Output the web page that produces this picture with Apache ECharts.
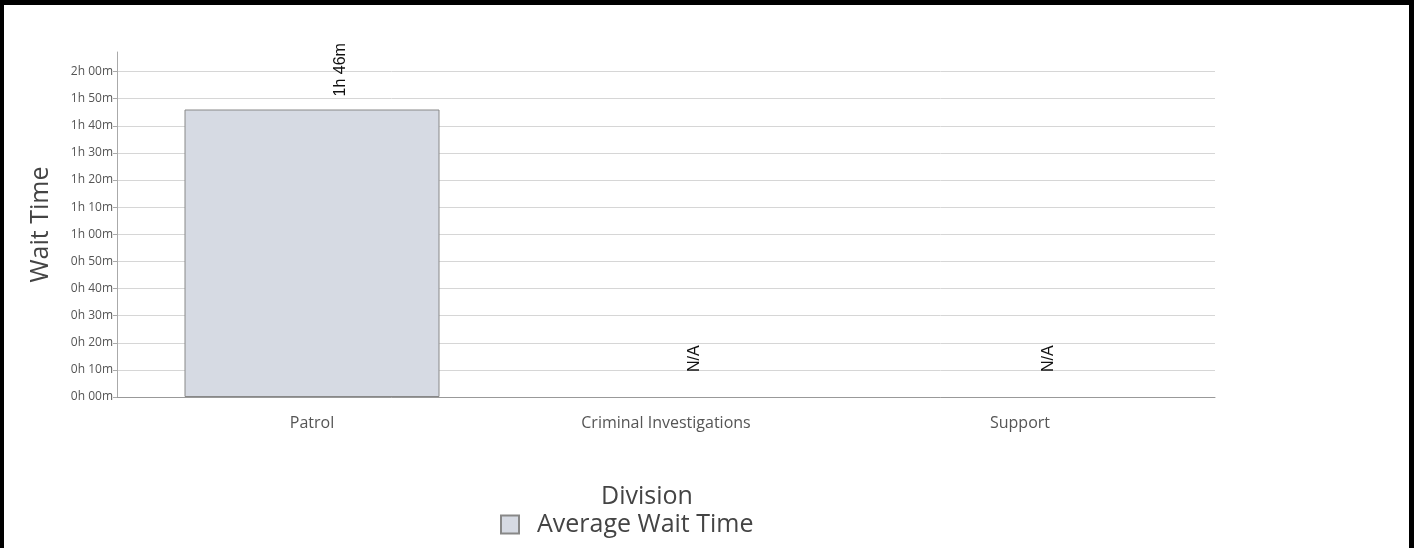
<!DOCTYPE html>
<html>
<head>
<meta charset="utf-8">
<script src="https://cdn.jsdelivr.net/npm/echarts@6/dist/echarts.min.js"></script>
<style>
html,body{margin:0;padding:0;background:#fff;}
#chart{position:absolute;left:0;top:0;width:1414px;height:548px;}
#frame{position:absolute;left:0;top:0;width:1414px;height:548px;box-sizing:border-box;border-top:5px solid #000;border-left:4px solid #000;border-right:5px solid #000;pointer-events:none;}
</style>
</head>
<body>
<div id="chart"></div>
<div id="frame"></div>
<script>
// Data (minutes); null = no data (N/A)
var categories = ['Patrol', 'Criminal Investigations', 'Support'];
var waitMinutes = [106, null, null];
var seriesName = 'Average Wait Time';
var yTickMinutes = [0, 10, 20, 30, 40, 50, 60, 70, 80, 90, 100, 110, 120];
var xAxisTitle = 'Division';
var yAxisTitle = 'Wait Time';

function fmtHM(v) {
  var h = Math.floor(v / 60);
  var m = Math.round(v - h * 60);
  return h + 'h ' + (m < 10 ? '0' + m : m) + 'm';
}

var maxVal = Math.max.apply(null, waitMinutes.filter(function (v) { return v != null; })) * 1.2;

var barData = waitMinutes.map(function (v) {
  if (v == null) {
    return {
      value: 0,
      itemStyle: { borderWidth: 0 },
      label: { formatter: 'N/A', distance: 25 }
    };
  }
  return { value: v };
});

var chart = echarts.init(document.getElementById('chart'), null, { renderer: 'canvas' });
var font = '"Open Sans", sans-serif';
chart.setOption({
  animation: false,
  backgroundColor: '#fff',
  title: {
    text: xAxisTitle,
    left: 601,
    top: 484,
    padding: 0,
    textStyle: { fontFamily: font, fontSize: 25, fontWeight: 'normal', color: '#444' }
  },
  legend: {
    data: [seriesName],
    left: 500,
    top: 512,
    padding: 0,
    itemWidth: 18,
    itemHeight: 18,
    itemGap: 10,
    icon: 'rect',
    textStyle: { fontFamily: font, fontSize: 25, color: '#444', padding: [0, 0, 0, 13] }
  },
  grid: [
    { left: 117, right: 199, top: 52, bottom: 151, containLabel: false },
    { left: 135, right: 217, top: 52, bottom: 151, containLabel: false }
  ],
  xAxis: [
    {
      gridIndex: 0, type: 'category', data: [''],
      axisLine: { show: true, lineStyle: { color: '#999', width: 1 } },
      axisTick: { show: false }, axisLabel: { show: false }, splitLine: { show: false }
    },
    {
      gridIndex: 1, type: 'category', data: categories,
      axisLine: { show: false }, axisTick: { show: false },
      axisLabel: { fontFamily: font, fontSize: 16, color: '#555', margin: 18 },
      splitLine: { show: false }
    }
  ],
  yAxis: [
    {
      gridIndex: 0, type: 'value', min: 0, max: maxVal, interval: 10,
      name: yAxisTitle, nameLocation: 'middle', nameGap: 64,
      nameTextStyle: { fontFamily: font, fontSize: 25, color: '#444' },
      axisLine: { show: true, lineStyle: { color: '#aaa', width: 1 } },
      axisTick: { show: true, length: 4, lineStyle: { color: '#aaa' }, customValues: yTickMinutes },
      axisLabel: { fontFamily: font, fontSize: 12, color: '#555', margin: 4,
        customValues: yTickMinutes, formatter: function (v) { return fmtHM(v); } },
      splitLine: { show: true, lineStyle: { color: '#d6d6d6', width: 1 } }
    },
    {
      gridIndex: 1, type: 'value', min: 0, max: maxVal, show: false,
      splitLine: { show: false }
    }
  ],
  series: [
    {
      name: seriesName,
      type: 'bar',
      xAxisIndex: 1,
      yAxisIndex: 1,
      barWidth: 255,
      data: barData,
      itemStyle: { color: '#d6dae3', borderColor: '#888', borderWidth: 1 },
      label: {
        show: true,
        position: 'top',
        rotate: 90,
        align: 'left',
        verticalAlign: 'middle',
        distance: 13,
        offset: [0, 29],
        fontFamily: '"Liberation Sans", Arial, sans-serif',
        fontSize: 16,
        color: '#111',
        formatter: function (p) { return fmtHM(p.value); }
      }
    }
  ]
});
</script>
</body>
</html>
